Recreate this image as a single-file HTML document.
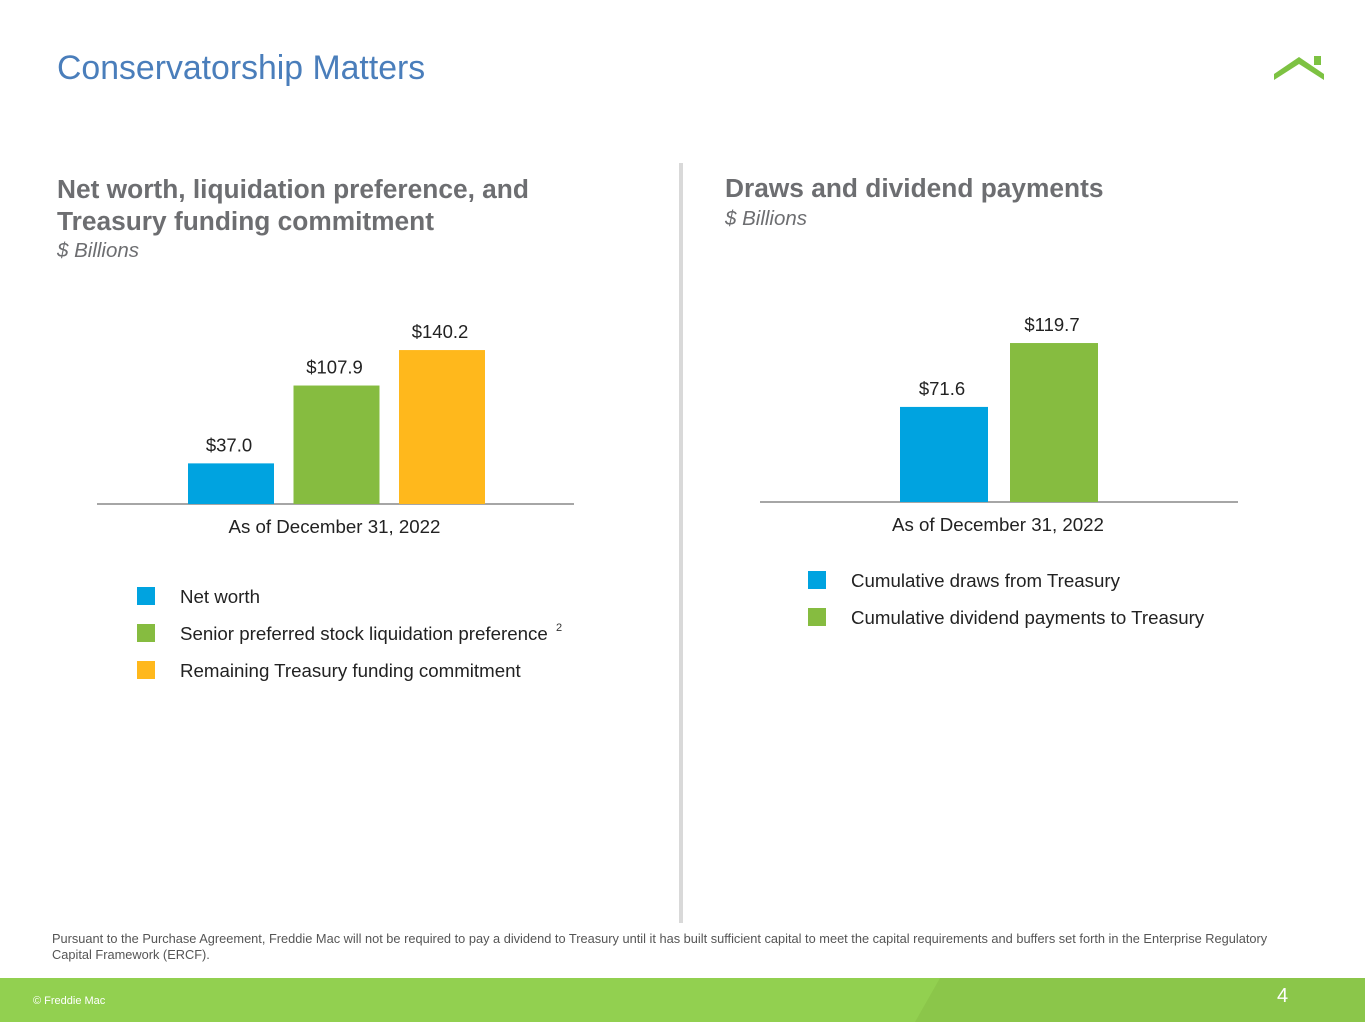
<!DOCTYPE html>
<html><head><meta charset="utf-8"><style>
body{margin:0;width:1365px;height:1024px;position:relative;background:#fff;font-family:"Liberation Sans",Arial,sans-serif;overflow:hidden}
.a{position:absolute;white-space:nowrap}
</style></head><body>
<div class="a" style="left:57px;top:49px;font-size:33.8px;color:#4a7ebb">Conservatorship Matters</div>
<svg class="a" style="left:1270px;top:52px" width="60" height="32"><polygon points="4,22 29,5 54,22 54,28 29,12 4,28" fill="#7dc242"/><rect x="44" y="4" width="7" height="9" fill="#7dc242"/></svg>
<div class="a" style="left:57px;top:173px;font-size:26.3px;font-weight:bold;color:#6d6e71;line-height:32px">Net worth, liquidation preference, and<br>Treasury funding commitment</div>
<div class="a" style="left:57px;top:239px;font-size:20.5px;font-style:italic;color:#6d6e71">$ Billions</div>
<div class="a" style="left:725px;top:173px;font-size:26.3px;font-weight:bold;color:#6d6e71">Draws and dividend payments</div>
<div class="a" style="left:725px;top:207px;font-size:20.5px;font-style:italic;color:#6d6e71">$ Billions</div>
<div class="a" style="left:679px;top:163px;width:4px;height:760px;background:#d9d9d9"></div>
<svg class="a" id="chart" style="left:0;top:0" width="1365" height="1024"></svg>
<div class="a" style="left:52px;top:931px;font-size:12.8px;color:#555;white-space:normal;width:1240px;line-height:16px">Pursuant to the Purchase Agreement, Freddie Mac will not be required to pay a dividend to Treasury until it has built sufficient capital to meet the capital requirements and buffers set forth in the Enterprise Regulatory Capital Framework (ERCF).</div>
<div class="a" style="left:0;top:978px;width:1365px;height:44px;background:#92d050"></div>
<svg class="a" style="left:0;top:978px" width="1365" height="44"><polygon points="940,0 1365,0 1365,44 915,44" fill="#8bc64a"/></svg>
<div class="a" style="left:33px;top:995px;font-size:11px;color:#fff">© Freddie Mac</div>
<div class="a" style="left:1277px;top:985px;font-size:20px;color:#fff">4</div>
<script>
const leftCats=["Net worth","Senior preferred stock liquidation preference","Remaining Treasury funding commitment"];
const leftVals=[37.0,107.9,140.2];
const leftLabels=["$37.0","$107.9","$140.2"];
const rightCats=["Cumulative draws from Treasury","Cumulative dividend payments to Treasury"];
const rightVals=[71.6,119.7];
const rightLabels=["$71.6","$119.7"];
const svg=document.getElementById('chart');const NS="http://www.w3.org/2000/svg";
function mk(t,a,txt){const e=document.createElementNS(NS,t);for(const k in a)e.setAttribute(k,a[k]);if(txt!=null)e.textContent=txt;svg.appendChild(e);return e;}
function chart(cats,vals,labels,colors,o){
 const y=v=>o.base-v*o.scale;
 const ax=mk('line',{x1:o.ax0,x2:o.ax1,y1:o.base,y2:o.base,stroke:'#888','stroke-width':1.5});
 
 vals.forEach((v,i)=>{const x=o.x0+i*o.step;
  const r=mk('rect',{x:x,y:y(v),width:o.w,height:o.base-y(v),fill:colors[i]});
  
  const t=mk('text',{x:x+o.w/2-2,y:y(v)-12,'text-anchor':'middle','font-size':18.5,fill:'#222'},labels[i]);
  
  const lr=mk('rect',{x:o.lx,y:o.ly+i*37-9,width:18,height:18,fill:colors[i]});
  
  const lt=mk('text',{x:o.lx+43,y:o.ly+i*37+7,'font-size':18.7,fill:'#222'},cats[i]);
  
 });
 const c=mk('text',{x:(o.ax0+o.ax1)/2-1,y:o.base+29,'text-anchor':'middle','font-size':18.7,fill:'#222'},'As of December 31, 2022');
 
}
chart(leftCats,leftVals,leftLabels,['#00a3e0','#86bc40','#ffb81c'],{base:504,scale:1.098,x0:188,step:105.5,w:86,ax0:97,ax1:574,lx:137,ly:596});
chart(rightCats,rightVals,rightLabels,['#00a3e0','#86bc40'],{base:502,scale:1.328,x0:900,step:110,w:88,ax0:760,ax1:1238,lx:808,ly:580});
const sup=mk('text',{x:556,y:631,'font-size':11,fill:'#333'},'2');

</script>
</body></html>
